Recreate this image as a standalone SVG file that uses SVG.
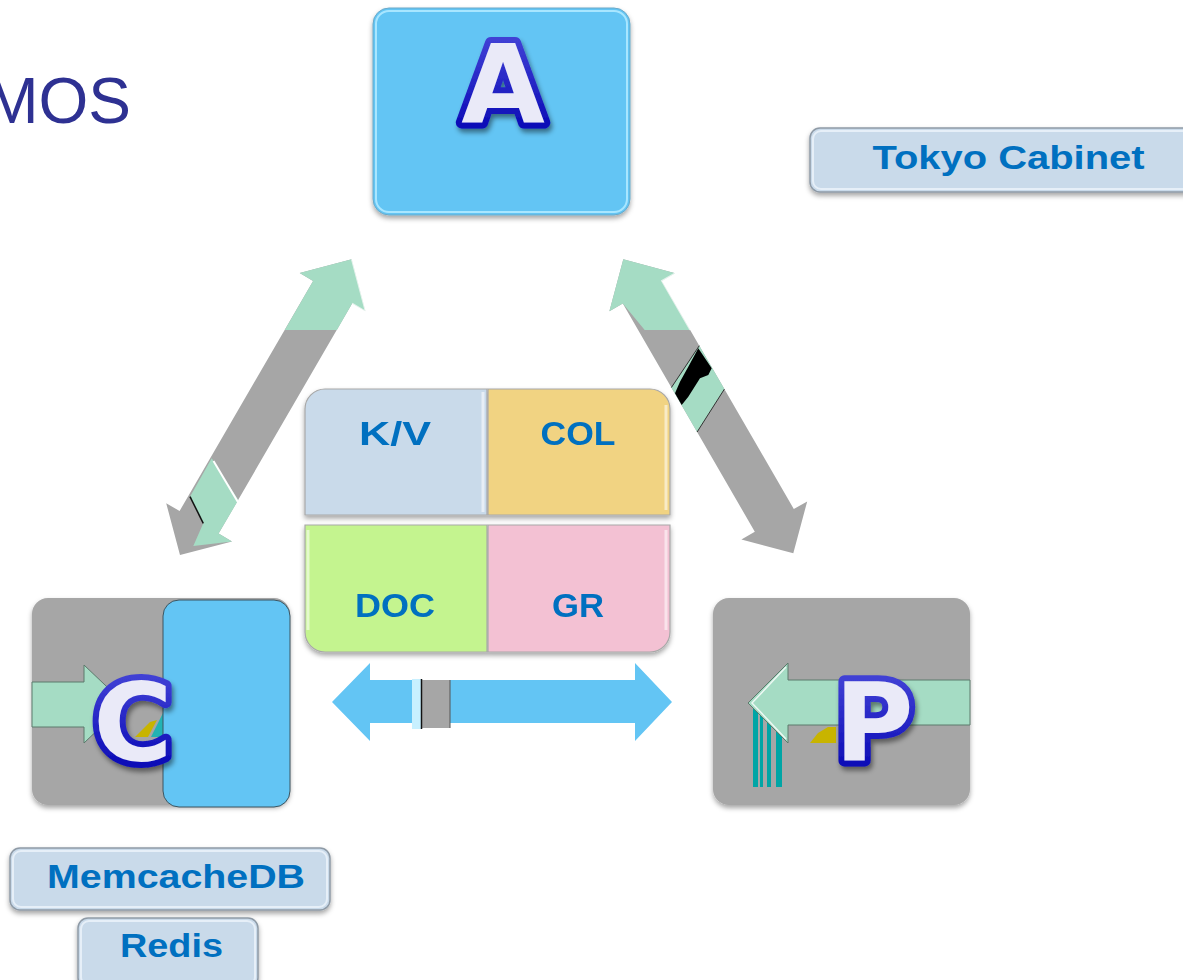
<svg xmlns="http://www.w3.org/2000/svg" width="1183" height="980" viewBox="0 0 1183 980">
  <defs>
    <style>
      .lbl { font-family: "Liberation Sans", Arial, sans-serif; font-weight: bold; font-size: 34px; fill: #0070C0; text-anchor: middle; }
      .big { font-family: "DejaVu Sans", Verdana, sans-serif; font-weight: bold; font-size: 108px; fill: #EAEAF8; stroke: url(#letterStroke); stroke-width: 12; stroke-linejoin: round; paint-order: stroke; text-anchor: middle; }
      .mint { fill: #A5DCC4; }
      .grey { fill: #A6A6A6; }
      .sky { fill: #63C5F4; }
      .tag { fill: #C9DAEA; stroke: #8E9AA6; stroke-width: 1.5; }
      .tagHi { fill: none; stroke: #E6EFF8; stroke-width: 2; }
      .tile { stroke: #A8A8A8; stroke-width: 1.2; }
      .tileHi { fill: none; stroke: #FFFFFF; stroke-opacity: 0.55; stroke-width: 3; }
    </style>
    <filter id="boxShadow" x="-10%" y="-10%" width="120%" height="130%">
      <feDropShadow dx="0" dy="3" stdDeviation="2.5" flood-color="#000" flood-opacity="0.35"/>
    </filter>
    <filter id="txtShadow" x="-20%" y="-20%" width="150%" height="150%">
      <feDropShadow dx="2" dy="4" stdDeviation="2.5" flood-color="#000" flood-opacity="0.45"/>
    </filter>
    <linearGradient id="letterStroke" x1="0" y1="0" x2="0" y2="1">
      <stop offset="0" stop-color="#4A4ADA"/>
      <stop offset="1" stop-color="#0000B0"/>
    </linearGradient>
  </defs>

  <rect width="1183" height="980" fill="#FFFFFF"/>

  <!-- title fragment, running off the left edge -->
  <text x="131" y="123" font-family="'Liberation Sans', Arial, sans-serif" font-size="64" fill="#2E3192" text-anchor="end">MOS</text>

  <!-- connectors -->
  <g id="connectors">
    <!-- A <-> C -->
    <g id="edge-a-c">
      <polygon class="grey" points="351.7,259.3 365.5,311.3 352.1,303.5 218.6,533.6 232,541.4 180,555.1 166.2,503.2 179.6,511 313.1,280.9 299.7,273.1"/>
      <polygon class="mint" points="351.7,259.3 365.5,311.3 352.1,303.5 336.9,330 284.8,330 313.1,280.9 299.7,273.1"/>
      <polyline points="351.7,259.3 365.5,311.3 352.1,303.5" fill="none" stroke="#FFFFFF" stroke-opacity="0.7" stroke-width="1.5"/>
      <polygon class="mint" points="211.7,458.3 238.3,500 218.6,533.6 232,541.4 193.3,546 203.3,523.3 190,496.7"/>
      <line x1="213.5" y1="461" x2="238.5" y2="503" stroke="#FFFFFF" stroke-width="2"/>
      <line x1="190" y1="496.7" x2="203.3" y2="523.3" stroke="#111111" stroke-width="1.5"/>
    </g>
    <!-- A <-> P -->
    <g id="edge-a-p">
      <polygon class="grey" points="623.3,259.3 675.2,273.2 661.8,280.9 793.8,509.1 807.2,501.4 793.3,553.3 741.4,539.4 754.8,531.7 622.8,303.5 609.4,311.2"/>
      <polygon class="mint" points="623.3,259.3 675.2,273.2 661.8,280.9 690.1,330 644.7,330 622.8,303.5 609.4,311.2"/>
      <polyline points="675.2,273.2 661.8,280.9 690.1,330" fill="none" stroke="#FFFFFF" stroke-opacity="0.7" stroke-width="1.5"/>
      <polygon class="mint" points="699.3,345.7 724.4,389.1 697.1,432 671.4,387.5"/>
      <line x1="671.4" y1="387.5" x2="699.3" y2="345.7" stroke="#333333" stroke-width="1"/>
      <line x1="697.1" y1="432" x2="724.4" y2="389.1" stroke="#333333" stroke-width="1"/>
      <polygon fill="#000000" points="698.3,348.3 711.7,368.3 708.3,375 700,378.3 688.3,396.7 681.7,405 675,393.3 680,381.7 688.3,366.7"/>
    </g>
    <!-- C <-> P -->
    <g id="edge-c-p">
      <polygon class="sky" points="332,702 370,663 370,680 635,680 635,663 672,702 635,741 635,723 370,723 370,741"/>
      <rect x="412" y="679" width="9" height="50" fill="#C8F0FF"/>
      <rect x="422" y="680" width="28" height="48" class="grey"/>
      <line x1="421.5" y1="679" x2="421.5" y2="729" stroke="#111111" stroke-width="1.5"/>
      <line x1="450" y1="680" x2="450" y2="728" stroke="#555555" stroke-width="1"/>
    </g>
  </g>

  <!-- A -->
  <g id="node-a">
    <rect x="373" y="8" width="257" height="207" rx="16" class="sky" stroke="#6AA9C8" stroke-width="1" filter="url(#boxShadow)"/>
    <rect x="376" y="11" width="251" height="201" rx="13" fill="none" stroke="#A8E6FF" stroke-width="2"/>
    <text x="503" y="122" class="big" filter="url(#txtShadow)">A</text>
  </g>

  <!-- Tokyo Cabinet -->
  <g id="node-tokyo">
    <rect x="810" y="128" width="390" height="64" rx="10" class="tag" filter="url(#boxShadow)"/>
    <rect x="813" y="131" width="384" height="58" rx="8" class="tagHi"/>
    <text x="1008.5" y="169" class="lbl" textLength="272" lengthAdjust="spacingAndGlyphs">Tokyo Cabinet</text>
  </g>

  <!-- data model tiles -->
  <g id="node-models" filter="url(#boxShadow)">
    <g id="tile-kv">
      <path class="tile" fill="#C9DAEA" d="M325 389 H487 V515 H305 V409 A20 20 0 0 1 325 389 Z"/>
      <line x1="483" y1="392" x2="483" y2="512" class="tileHi"/>
      <text x="395" y="445" class="lbl" textLength="72" lengthAdjust="spacingAndGlyphs">K/V</text>
    </g>
    <g id="tile-col">
      <path class="tile" fill="#F1D382" d="M488 389 H650 A20 20 0 0 1 670 409 V515 H488 Z"/>
      <line x1="666" y1="405" x2="666" y2="510" class="tileHi"/>
      <text x="578" y="445" class="lbl" textLength="75" lengthAdjust="spacingAndGlyphs">COL</text>
    </g>
    <g id="tile-doc">
      <path class="tile" fill="#C4F48F" d="M305 525 H487 V652 H325 A20 20 0 0 1 305 632 Z"/>
      <line x1="308" y1="530" x2="308" y2="630" class="tileHi"/>
      <text x="395" y="617" class="lbl" textLength="80" lengthAdjust="spacingAndGlyphs">DOC</text>
    </g>
    <g id="tile-gr">
      <path class="tile" fill="#F3C1D3" d="M488 525 H670 V632 A20 20 0 0 1 650 652 H488 Z"/>
      <line x1="666" y1="530" x2="666" y2="630" class="tileHi"/>
      <text x="578" y="617" class="lbl" textLength="52" lengthAdjust="spacingAndGlyphs">GR</text>
    </g>
  </g>

  <!-- C -->
  <g id="node-c">
    <rect x="32" y="598" width="258" height="207" rx="16" class="grey" filter="url(#boxShadow)"/>
    <polygon class="mint" points="32,682 84,682 84,665 125,704 84,743 84,727 32,727" stroke="#5C7A6C" stroke-width="1"/>
    <polygon fill="#C8B400" points="135,737 150,722 157,720 148,737"/>
    <polygon fill="#22B3B3" points="151,737 163,713 163,737"/>
    <rect x="163" y="600" width="127" height="207" rx="16" class="sky" stroke="#3D5560" stroke-width="1"/>
    <text x="133" y="760" class="big" filter="url(#txtShadow)">C</text>
  </g>

  <!-- P -->
  <g id="node-p">
    <rect x="713" y="598" width="257" height="207" rx="16" class="grey" filter="url(#boxShadow)"/>
    <g fill="#00A5A5">
      <rect x="753" y="705" width="5" height="82"/>
      <rect x="760" y="705" width="3" height="82"/>
      <rect x="767" y="705" width="4" height="82"/>
      <rect x="776" y="705" width="6" height="82"/>
    </g>
    <polygon class="mint" points="970,680 788,680 788,663 748,703 788,743 788,725 970,725" stroke="#5C7A6C" stroke-width="1"/>
    <polyline points="786,667 752,703 786,739" fill="none" stroke="#FFFFFF" stroke-width="1.5" stroke-opacity="0.8"/>
    <polygon fill="#C8B400" points="810,743 818,733 828,727 836,727 836,743"/>
    <text x="874" y="761" class="big" filter="url(#txtShadow)">P</text>
  </g>

  <!-- MemcacheDB -->
  <g id="node-memcachedb">
    <rect x="10" y="848" width="320" height="62" rx="10" class="tag" filter="url(#boxShadow)"/>
    <rect x="13" y="851" width="314" height="56" rx="8" class="tagHi"/>
    <text x="176" y="888" class="lbl" textLength="258" lengthAdjust="spacingAndGlyphs">MemcacheDB</text>
  </g>

  <!-- Redis -->
  <g id="node-redis">
    <rect x="78" y="918" width="180" height="70" rx="10" class="tag" filter="url(#boxShadow)"/>
    <rect x="81" y="921" width="174" height="64" rx="8" class="tagHi"/>
    <text x="171.5" y="957" class="lbl" textLength="103" lengthAdjust="spacingAndGlyphs">Redis</text>
  </g>
</svg>
